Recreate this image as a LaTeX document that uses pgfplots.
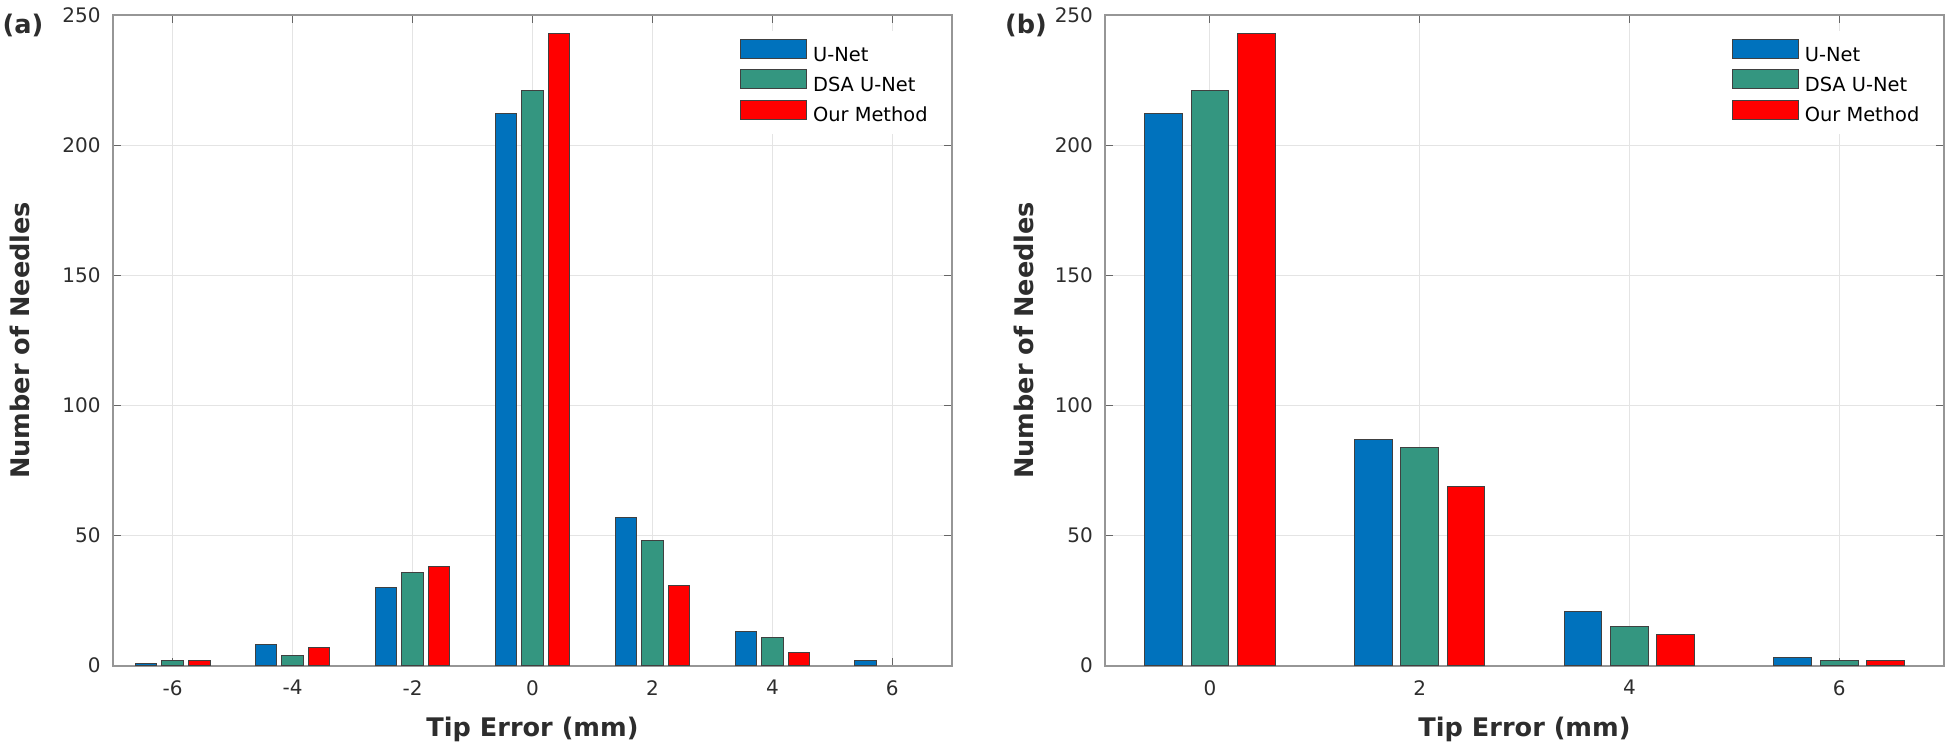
\documentclass[border=0pt]{standalone}
\usepackage{fontspec}
\setmainfont{DejaVu Sans}
\usepackage{pgfplots}
\pgfplotsset{compat=1.18}
\definecolor{unet}{RGB}{0,114,189}
\definecolor{dsa}{RGB}{52,150,128}
\definecolor{ours}{RGB}{255,0,0}
\definecolor{gridc}{RGB}{228,228,228}
\definecolor{axc}{RGB}{150,150,150}
\definecolor{txt}{RGB}{45,45,45}
\pgfplotsset{mystyle/.style={
  scale only axis, width=419.8pt, height=325.35pt,
  ymin=0, ymax=250, ytick={0,50,...,250},
  ybar, bar width=0.36,
  grid=major, major grid style={gridc, line width=0.5pt},
  axis line style={axc, line width=0.8pt},
  tick style={black!60, line width=0.6pt}, tick align=inside, major tick length=4pt,
  xtick pos=both, ytick pos=both,
  ticklabel style={font=\fontsize{10}{12}\selectfont, text=txt},
  xticklabel style={yshift=-3.7pt},
  yticklabel style={xshift=-2.5pt},
  /pgf/number format/assume math mode=true,
  xlabel={Tip Error (mm)}, ylabel={Number of Needles},
  label style={font=\fontsize{12.8}{15}\selectfont\bfseries, text=txt},
  xlabel style={at={(rel axis cs:0.5,-0.0973)}, anchor=center},
  legend style={font=\fontsize{9.7}{11}\selectfont, draw=none, fill=white, inner sep=4pt,
    anchor=north east, at={(rel axis cs:0.9806,0.9754)}, row sep=2.0pt,
    nodes={inner sep=0pt, text height=7pt, text depth=2pt},
    /tikz/every odd column/.append style={column sep=3pt}},
  legend cell align=left,
  legend image code/.code={\draw[#1] (0pt,-1.21pt) rectangle (33pt,8.29pt);},
}}
\begin{document}
\begin{tikzpicture}
\useasboundingbox (0,0) rectangle (975pt,376pt);
\begin{axis}[mystyle, at={(56.35pt,43.15pt)}, anchor=south west,
  xmin=-7, xmax=7, xtick={-6,-4,-2,0,2,4,6},
  ylabel style={at={(rel axis cs:-0.1104,0.5)}, anchor=center}]
\addplot[bar shift=0pt, fill=unet, draw=black!75, line width=0.5pt] coordinates {(-6.443,1) (-4.443,8) (-2.443,30) (-0.443,212) (1.557,57) (3.557,13) (5.557,2)};
\addplot[bar shift=0pt, fill=dsa, draw=black!75, line width=0.5pt] coordinates {(-6,2) (-4,4) (-2,36) (0,221) (2,48) (4,11)};
\addplot[bar shift=0pt, fill=ours, draw=black!75, line width=0.5pt] coordinates {(-5.557,2) (-3.557,7) (-1.557,38) (0.443,243) (2.443,31) (4.443,5)};
\legend{U-Net, DSA U-Net, Our Method}
\end{axis}
\begin{axis}[mystyle, at={(552.5pt,43.15pt)}, anchor=south west, width=419.5pt,
  xmin=-1, xmax=7, xtick={0,2,4,6},
  ylabel style={at={(rel axis cs:-0.0965,0.5)}, anchor=center}]
\addplot[bar shift=0pt, fill=unet, draw=black!75, line width=0.5pt] coordinates {(-0.443,212) (1.557,87) (3.557,21) (5.557,3)};
\addplot[bar shift=0pt, fill=dsa, draw=black!75, line width=0.5pt] coordinates {(0,221) (2,84) (4,15) (6,2)};
\addplot[bar shift=0pt, fill=ours, draw=black!75, line width=0.5pt] coordinates {(0.443,243) (2.443,69) (4.443,12) (6.443,2)};
\legend{U-Net, DSA U-Net, Our Method}
\end{axis}
\node[font=\fontsize{12.8}{15}\selectfont\bfseries, text=txt] at (11.5pt,363.5pt) {(a)};
\node[font=\fontsize{12.8}{15}\selectfont\bfseries, text=txt] at (513pt,363.5pt) {(b)};
\end{tikzpicture}
\end{document}
